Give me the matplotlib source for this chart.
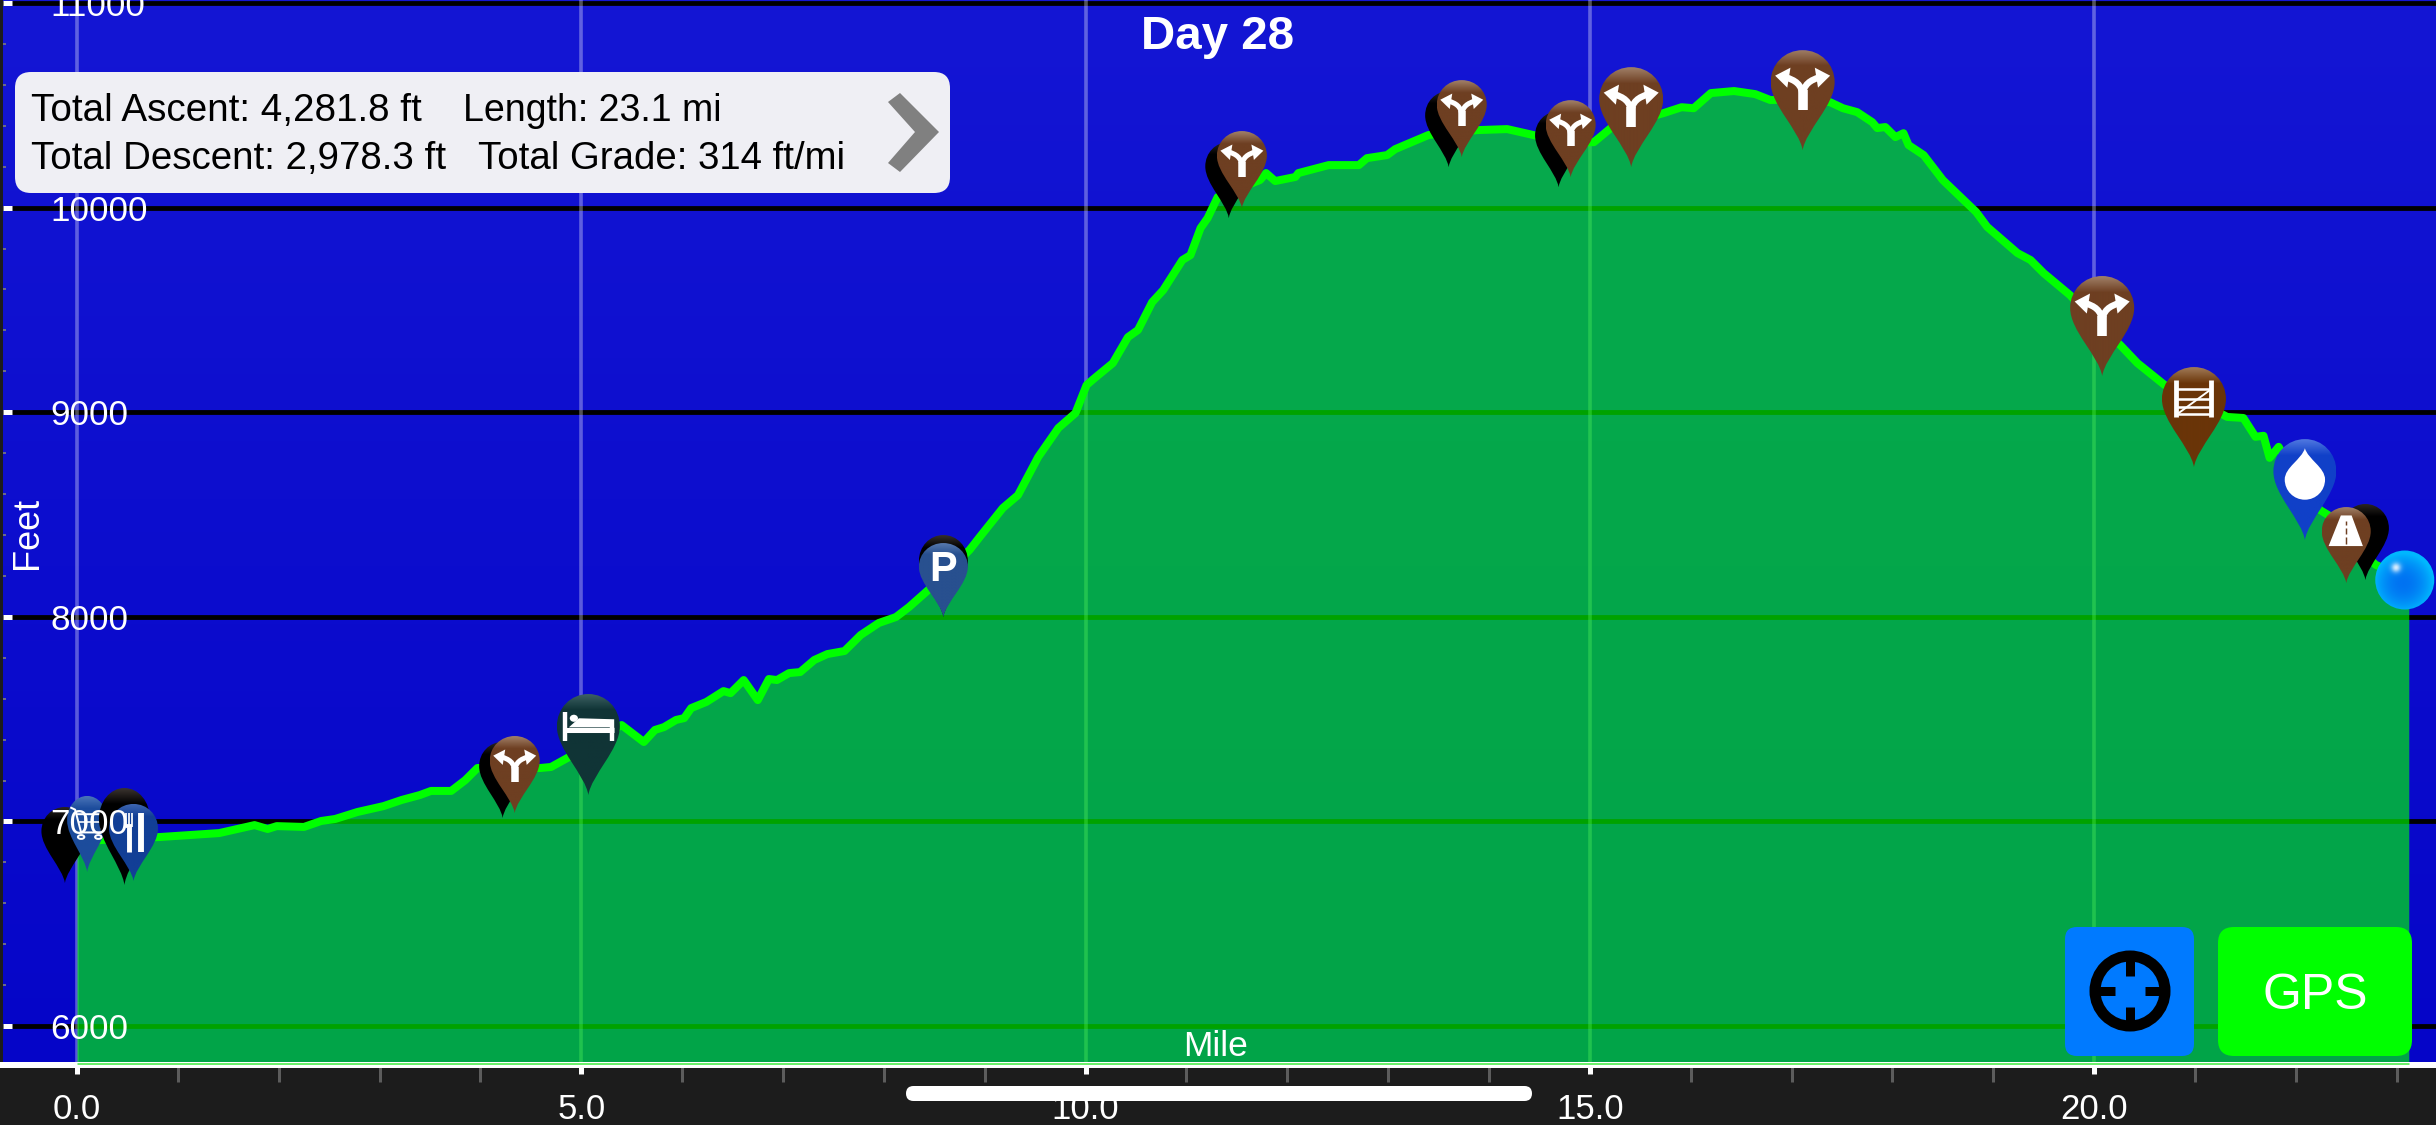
import numpy as np
import matplotlib
matplotlib.use("Agg")
import matplotlib.pyplot as plt
from matplotlib.path import Path
from matplotlib.patches import PathPatch, FancyBboxPatch, Circle, Polygon, Ellipse
from matplotlib.transforms import Affine2D
from matplotlib.lines import Line2D
from matplotlib.ticker import MultipleLocator

plt.rcParams['font.family'] = ['Liberation Sans', 'DejaVu Sans']

TITLE = "Day 28"
X_LABEL = "Mile"
Y_LABEL = "Feet"
X_TICKS = [0, 5, 10, 15, 20]
X_TICK_LABELS = ["0.0", "5.0", "10.0", "15.0", "20.0"]
Y_TICKS = [6000, 7000, 8000, 9000, 10000, 11000]
Y_TICK_LABELS = ["6000", "7000", "8000", "9000", "10000", "11000"]
STAT_LABELS = ["Total Ascent: 4,281.8 ft", "Length: 23.1 mi",
               "Total Descent: 2,978.3 ft", "Total Grade: 314 ft/mi"]
GPS_LABEL = "GPS"

miles = [0.0, 0.4, 0.83, 1.41, 1.76, 1.89, 1.98, 2.25, 2.42, 2.56, 2.78, 3.04, 3.22, 3.40, 3.51, 3.71,
         3.85, 3.97, 4.30, 4.59, 4.70, 4.88, 5.15, 5.40, 5.62, 5.73, 5.82, 5.94, 6.02, 6.09, 6.24, 6.41,
         6.48, 6.61, 6.75, 6.86, 6.94, 7.06, 7.17, 7.31, 7.44, 7.61, 7.77, 7.95, 8.12, 8.25, 8.44, 8.65,
         8.85, 8.95, 9.18, 9.33, 9.53, 9.73, 9.90, 10.01, 10.09, 10.27, 10.42, 10.52, 10.66, 10.77, 10.96,
         11.04, 11.14, 11.21, 11.31, 11.50,
         11.73, 11.79, 11.88, 12.08, 12.11, 12.41, 12.71, 12.79, 12.99, 13.07, 13.40, 13.88, 14.18, 14.44,
         14.75, 15.04, 15.22, 15.73, 15.91, 16.03, 16.20, 16.43, 16.64, 16.79, 17.10, 17.38, 17.51, 17.65,
         17.80, 17.85, 17.93, 18.03, 18.11, 18.16, 18.31, 18.50, 18.83, 18.94, 19.24, 19.37, 19.50, 19.76,
         20.00, 20.26, 20.43,
         20.70, 21.00, 21.32, 21.48, 21.60, 21.68, 21.74, 21.83, 22.00, 22.24, 22.32, 22.55, 22.79, 23.12]
feet = [6900, 6915, 6924, 6943, 6982, 6963, 6977, 6973, 7002, 7012, 7046, 7075, 7105, 7129, 7149, 7149,
        7202, 7261, 7265, 7261, 7266, 7315, 7400, 7471, 7388, 7447, 7461, 7496, 7505, 7554, 7584, 7637,
        7627, 7691, 7593, 7696, 7691, 7725, 7730, 7789, 7818, 7833, 7911, 7970, 7999, 8048, 8131, 8230,
        8327, 8390, 8532, 8595, 8781, 8923, 8996, 9133, 9167, 9240, 9367, 9402, 9538, 9597, 9744,
        9768, 9900, 9949, 10052, 10090,
        10135, 10169, 10130, 10150, 10169, 10208, 10208, 10242, 10257, 10286, 10355, 10379, 10384, 10355,
        10320, 10320, 10394, 10462, 10491, 10486, 10560, 10570, 10555, 10526, 10530, 10516, 10486, 10467,
        10418, 10389, 10394, 10345, 10364, 10306, 10257, 10135, 9979, 9906, 9778, 9744, 9680, 9573,
        9450, 9328, 9240,
        9133, 9060, 8977, 8972, 8880, 8885, 8777, 8831, 8680, 8522, 8498, 8370, 8255, 8180]

pin_kinds = ["black", "cart", "black_tall", "food", "black", "fork", "bed", "black_mid", "parking",
             "black", "fork", "black", "fork", "black", "fork", "fork_big", "fork_big", "fork_big",
             "gate", "water", "black", "road"]
pin_miles = [-0.12, 0.10, 0.47, 0.56, 4.22, 4.34, 5.07, 8.59, 8.59,
             11.42, 11.55, 13.60, 13.73, 14.69, 14.81, 15.41, 17.11, 20.08,
             20.99, 22.09, 22.69, 22.50]
pin_feet = [6699, 6753, 6689, 6709, 7017, 7041, 7129, 7999, 7999,
            9949, 9998, 10198, 10247, 10100, 10149, 10198, 10281, 9177,
            8732, 8375, 8180, 8165]

# kind -> width px, height px, body colour, rim colour
PIN_STYLE = {
    "black":      (47, 76, "#000000", "#2a2522"),
    "black_tall": (51, 97, "#000000", "#3a332e"),
    "black_mid":  (49, 82, "#000000", "#3a332e"),
    "cart":       (40, 76, "#1c4c9c", "#4a74b8"),
    "food":       (49, 77, "#123f96", "#3d65b0"),
    "fork":       (50, 77, "#6e3f22", "#a08068"),
    "fork_big":   (64, 100, "#6e3f22", "#a08068"),
    "bed":        (63, 101, "#103436", "#3f6466"),
    "parking":    (49, 74, "#28508f", "#5b7cb0"),
    "gate":       (64, 100, "#6a3508", "#a07a58"),
    "water":      (63, 101, "#1040c8", "#5078e0"),
    "road":       (49, 76, "#6e3f22", "#a08068"),
}

W, H = 2436, 1125
fig = plt.figure(figsize=(W / 100, H / 100), dpi=100, facecolor="#1c1c1c")
ax = fig.add_axes([3 / W, (H - 1065) / H, (W - 3) / W, 1065 / H])
ax.set_facecolor("#0a0ac8")
PX = 0.72
ax.set_xlim(-0.734, 23.39)
ax.set_ylim(5809.4, 11015)
ax.set_autoscale_on(False)

# background gradient
top, bot = np.array([20, 22, 212]) / 255, np.array([5, 5, 200]) / 255
grad = np.linspace(0, 1, 128)[:, None, None] * (bot - top) + top
ax.imshow(grad, extent=[-0.734, 23.39, 5809.4, 11015], origin="upper", aspect="auto", zorder=0)

for v in Y_TICKS:
    ax.axhline(v, color="black", lw=4.8 * PX, zorder=1)
for m in X_TICKS:
    ax.axvline(m, color="white", alpha=0.33, lw=3.6 * PX, zorder=1)

ax.fill_between(miles, feet, 5809.4, color="#00ff00", alpha=0.64, lw=0, zorder=2)
ax.plot(miles, feet, color="#00ff00", lw=8 * PX, zorder=3, solid_joinstyle="round")

# axes furniture
for s in ("top", "right", "left"):
    ax.spines[s].set_visible(False)
ax.spines["bottom"].set_color("white")
ax.spines["bottom"].set_linewidth(6 * PX)
ax.spines["bottom"].set_zorder(11)
ax.plot([0, miles[-1]], [5816.7, 5816.7], color="#6cf06c", lw=3 * PX, zorder=12, solid_capstyle="butt")

ax.set_xticks(X_TICKS, X_TICK_LABELS)
ax.set_yticks(Y_TICKS, Y_TICK_LABELS)
ax.xaxis.set_minor_locator(MultipleLocator(1))
ax.yaxis.set_minor_locator(MultipleLocator(200))
ax.tick_params(axis="x", which="major", direction="out", length=9 * PX, width=5 * PX, color="white",
               labelcolor="white", labelsize=25, pad=14)
ax.tick_params(axis="x", which="minor", direction="out", length=17 * PX, width=3 * PX, color="#5c5c5c")
ax.tick_params(axis="y", which="major", direction="in", length=9 * PX, width=5 * PX, color="white",
               labelcolor="white", labelsize=25.3, pad=-47 * PX)
ax.tick_params(axis="y", which="minor", direction="in", length=3 * PX, width=2 * PX, color="#6a6a8a")
for t in ax.get_yticklabels():
    t.set_ha("left")
ax.xaxis.set_zorder(10)
ax.yaxis.set_zorder(10)

ax.set_title(TITLE, x=(1218 - 3) / (W - 3), y=1 - 37 / 1065, pad=0, va="center", color="white",
             fontsize=34.2, fontweight="bold", zorder=10)
ax.set_xlabel(X_LABEL, color="white", fontsize=25.5, va="center")
ax.xaxis.set_label_coords((1216 - 3) / (W - 3), (1065 - 1047) / 1065)
ax.set_ylabel(Y_LABEL, color="white", fontsize=26, va="center")
ax.yaxis.set_label_coords((27 - 3) / (W - 3), (1065 - 533) / 1065)


# ---- waypoint pins ----
PIN_PATH = Path(
    [(0, 0), (0.05, 0.20), (0.5, 0.45), (0.5, 0.68),
     (0.5, 0.86), (0.28, 1.0), (0, 1.0),
     (-0.28, 1.0), (-0.5, 0.86), (-0.5, 0.68),
     (-0.5, 0.45), (-0.05, 0.20), (0, 0), (0, 0)],
    [Path.MOVETO] + [Path.CURVE4] * 12 + [Path.CLOSEPOLY])


def poly(tr, pts, z, color="white"):
    ax.add_patch(Polygon(pts, closed=True, transform=tr, fc=color, ec="none", zorder=z))


def seg(tr, pts, lw, z, color="white", cap="butt"):
    xs, ys = zip(*pts)
    ax.add_line(Line2D(xs, ys, transform=tr, color=color, lw=lw * PX, zorder=z,
                       solid_capstyle=cap, solid_joinstyle="round"))


def draw_fork(tr, w, z):
    seg(tr, [(0, 0.405), (0, 0.60)], 0.15 * w, z)
    for sgn in (-1, 1):
        p = Path([(0, 0.54), (sgn * 0.01, 0.66), (sgn * 0.12, 0.70), (sgn * 0.27, 0.73)],
                 [Path.MOVETO, Path.CURVE4, Path.CURVE4, Path.CURVE4])
        ax.add_patch(PathPatch(p, transform=tr, fc="none", ec="white", lw=0.10 * w * PX, zorder=z,
                               capstyle="butt"))
        poly(tr, [(sgn * 0.43, 0.745), (sgn * 0.19, 0.825), (sgn * 0.24, 0.625)], z)


def draw_icon(kind, tr, w, h, z, body):
    if kind in ("fork", "fork_big"):
        draw_fork(tr, w, z)
    elif kind == "bed":
        seg(tr, [(-0.37, 0.53), (-0.37, 0.82)], 0.07 * w, z)
        ax.add_patch(Ellipse((-0.23, 0.76), 0.13, 0.07, transform=tr, fc="white", ec="none", zorder=z))
        poly(tr, [(-0.15, 0.76), (0.41, 0.75), (0.41, 0.67), (-0.31, 0.67)], z)
        seg(tr, [(-0.37, 0.645), (0.41, 0.645)], 0.05 * h, z)
        seg(tr, [(0.375, 0.53), (0.375, 0.67)], 0.07 * w, z)
    elif kind == "parking":
        ax.text(0, 0.64, "P", transform=tr, color="white", fontsize=30, fontweight="bold",
                ha="center", va="center", zorder=z)
    elif kind == "gate":
        for x in (-0.28, 0.27):
            seg(tr, [(x, 0.50), (x, 0.875)], 0.075 * w, z)
        for y in (0.78, 0.68, 0.60, 0.53):
            seg(tr, [(-0.28, y), (0.27, y)], 0.04 * w, z)
        seg(tr, [(-0.26, 0.53), (0.25, 0.77)], 0.03 * w, z)
    elif kind == "water":
        p = Path([(0, 0.91), (-0.05, 0.80), (-0.32, 0.72), (-0.32, 0.60),
                  (-0.32, 0.49), (-0.18, 0.40), (0, 0.40),
                  (0.18, 0.40), (0.32, 0.49), (0.32, 0.60),
                  (0.32, 0.72), (0.05, 0.80), (0, 0.91), (0, 0.91)],
                 [Path.MOVETO] + [Path.CURVE4] * 12 + [Path.CLOSEPOLY])
        ax.add_patch(PathPatch(p, transform=tr, fc="white", ec="none", zorder=z))
    elif kind == "road":
        poly(tr, [(-0.11, 0.89), (0.11, 0.89), (0.34, 0.487), (-0.36, 0.487)], z)
        for y0, y1 in ((0.82, 0.76), (0.72, 0.65), (0.60, 0.52)):
            seg(tr, [(0, y0), (0, y1)], 0.03 * w, z, color=body)
    elif kind == "food":
        seg(tr, [(-0.09, 0.38), (-0.09, 0.70)], 0.10 * w, z)
        for x in (-0.15, -0.09, -0.03):
            seg(tr, [(x, 0.70), (x, 0.88)], 0.035 * w, z)
        seg(tr, [(-0.15, 0.71), (-0.03, 0.71)], 0.05 * h, z)
        seg(tr, [(0.155, 0.38), (0.155, 0.88)], 0.12 * w, z)
    elif kind == "cart":
        seg(tr, [(-0.42, 0.85), (-0.3, 0.82), (-0.15, 0.52), (0.35, 0.52)], 0.05 * w, z)
        seg(tr, [(-0.28, 0.76), (0.42, 0.76), (0.35, 0.56)], 0.05 * w, z)
        seg(tr, [(-0.2, 0.66), (0.39, 0.66)], 0.04 * w, z)
        for x in (-0.05, 0.15):
            seg(tr, [(x, 0.76), (x, 0.55)], 0.04 * w, z)
        for x in (-0.15, 0.28):
            ax.add_patch(Ellipse((x, 0.46), 0.16, 0.05, transform=tr, fc="none", ec="white",
                                 lw=0.05 * w * PX, zorder=z))


def to_data(px, py):
    return ax.transData.inverted().transform((px, py))


for i, (kind, m, f) in enumerate(zip(pin_kinds, pin_miles, pin_feet)):
    w, h, body, rim = PIN_STYLE[kind]
    tx, ty = ax.transData.transform((m, f))
    tr = Affine2D().scale(w, h).translate(tx, ty)
    z = 4 + i * 0.01
    c0, c1 = np.array(matplotlib.colors.to_rgb(rim)), np.array(matplotlib.colors.to_rgb(body))
    t = np.clip(np.linspace(0, 1, 100) / 0.16, 0, 1)[:, None, None]
    img = c0 + (c1 - c0) * t
    x0, y0 = to_data(tx - w / 2, ty)
    x1, y1 = to_data(tx + w / 2, ty + h)
    im = ax.imshow(img, extent=[x0, x1, y0, y1], origin="upper", aspect="auto", zorder=z)
    im.set_clip_path(PIN_PATH, transform=tr)
    draw_icon(kind, tr, w, h, z + 0.001, body)

# current-position ball on the last point
ex, ey = ax.transData.transform((miles[-1], feet[-1]))
ex -= 4
yy, xx = np.mgrid[-1:1:120j, -1:1:120j]
d = np.clip(np.hypot(xx + 0.05, yy - 0.1), 0, 1)
ball = np.zeros((120, 120, 3))
c_in, c_out = np.array([0.0, 0.45, 0.95]), np.array([0.0, 0.72, 1.0])
ball[:] = c_in[None, None, :] + (c_out - c_in)[None, None, :] * (d[:, :, None] ** 2)
hl = np.exp(-(((xx + 0.3) ** 2 + (yy + 0.42) ** 2) / 0.025))[:, :, None]
ball = ball + (1 - ball) * hl * 0.85
x0, y0 = to_data(ex - 30, ey - 30)
x1, y1 = to_data(ex + 30, ey + 30)
im = ax.imshow(ball, extent=[x0, x1, y0, y1], origin="upper", aspect="auto", zorder=5)
im.set_clip_path(Circle((ex, ey), 29.5, transform=None))

# ---- overlay widgets, in screen pixels (y down) ----
scr = Affine2D().scale(1 / W, -1 / H).translate(0, 1) + fig.transFigure


def rbox(x0, y0, x1, y1, r, color, z=5):
    fig.add_artist(FancyBboxPatch((x0 + r, y0 + r), x1 - x0 - 2 * r, y1 - y0 - 2 * r,
                                  boxstyle=f"round,pad={r},rounding_size={r}", transform=scr,
                                  fc=color, ec="none", zorder=z))


rbox(15, 72, 950, 193, 16, "#efeff4")
fig.text(31, 111, STAT_LABELS[0], transform=scr, fontsize=27.8, color="black", va="center", zorder=6)
fig.text(463, 111, STAT_LABELS[1], transform=scr, fontsize=27, color="black", va="center", zorder=6)
fig.text(31, 159, STAT_LABELS[2], transform=scr, fontsize=27.7, color="black", va="center", zorder=6)
fig.text(478, 159, STAT_LABELS[3], transform=scr, fontsize=27.6, color="black", va="center", zorder=6)
fig.add_artist(Polygon([(900, 93), (939, 132), (900, 172), (888, 163), (915, 132), (888, 102)],
                       closed=True, transform=scr, fc="#808080", ec="none", zorder=6))

rbox(2065, 927, 2194, 1056, 12, "#007aff")
fig.add_artist(Circle((2130, 991), 35, transform=scr, fc="none", ec="black", lw=11 * PX, zorder=6))
for a, b in (((2130, 958), (2130, 976)), ((2130, 1007), (2130, 1024)),
             ((2097, 991), (2115, 991)), ((2145, 991), (2163, 991))):
    fig.add_artist(Line2D([a[0], b[0]], [a[1], b[1]], transform=scr, color="black", lw=9 * PX,
                          solid_capstyle="butt", zorder=6))
rbox(2218, 927, 2412, 1056, 16, "#00ff00")
fig.text(2315, 996, GPS_LABEL, transform=scr, fontsize=36, color="white", ha="center", va="center", zorder=6)

rbox(906, 1086, 1532, 1101, 7.5, "white", z=7)

fig.savefig("out.png", dpi=100, facecolor=fig.get_facecolor())
